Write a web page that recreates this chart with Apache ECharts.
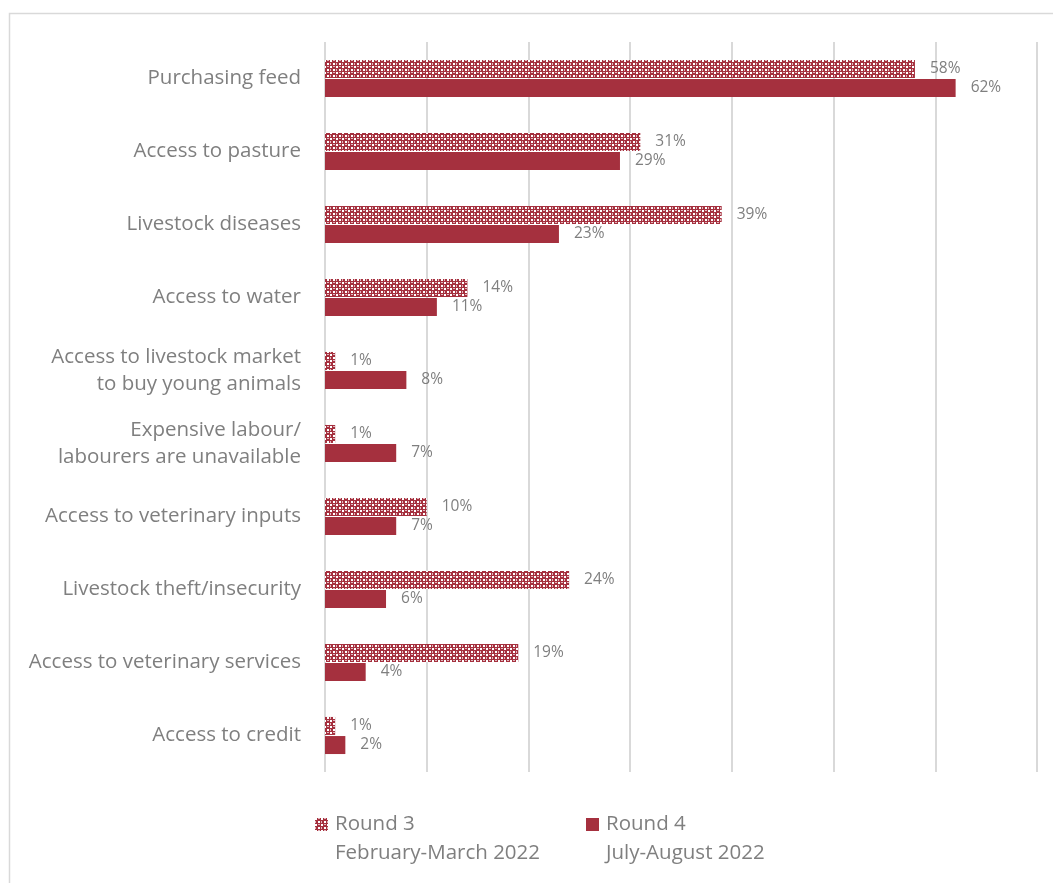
<!DOCTYPE html>
<html>
<head>
<meta charset="utf-8">
<script src="https://cdn.jsdelivr.net/npm/echarts@6/dist/echarts.min.js"></script>
<style>
  html, body { margin: 0; padding: 0; background: #ffffff; }
  #chart { width: 1053px; height: 883px; }
</style>
</head>
<body>
<div id="chart"></div>
<script>
// Livestock production difficulties reported by households, two survey rounds (%)
const categories = [
  'Purchasing feed',
  'Access to pasture',
  'Livestock diseases',
  'Access to water',
  'Access to livestock market\nto buy young animals',
  'Expensive labour/\nlabourers are unavailable',
  'Access to veterinary inputs',
  'Livestock theft/insecurity',
  'Access to veterinary services',
  'Access to credit'
];
const round3 = [58, 31, 39, 14, 1, 1, 10, 24, 19, 1];
const round4 = [62, 29, 23, 11, 8, 7, 7, 6, 4, 2];
const seriesNames = ['Round 3', 'Round 4'];
const seriesPeriods = ['February-March 2022', 'July-August 2022'];

const RED = '#a5303e';
const PINK = '#e2b8be';
const GREY_TEXT = '#7f7f7f';
const GRID = '#d9d9d9';
const FONT = '"Open Sans", Lato, sans-serif';

// Small repeating tile: red crosses between offset white squares, used as the Round 3 fill
function makeTile() {
  const c = document.createElement('canvas');
  c.width = 6; c.height = 6;
  const g = c.getContext('2d');
  g.fillStyle = RED;
  g.fillRect(0, 0, 6, 6);
  g.fillStyle = '#ffffff';
  g.fillRect(0, 0, 2, 2);
  g.fillRect(3, 3, 2, 2);
  g.fillStyle = PINK;
  g.fillRect(3, 0, 2, 1);
  g.fillRect(0, 3, 1, 2);
  return c;
}
const patternFill = { image: makeTile(), repeat: 'repeat' };

const chart = echarts.init(document.getElementById('chart'), null, { renderer: 'canvas' });

const labelStyle = {
  show: true,
  position: 'right',
  distance: 15,
  color: GREY_TEXT,
  fontFamily: FONT,
  fontSize: 15.5,
  formatter: p => p.value + '%'
};

// Legend entry: a blank first line keeps the swatch level with the round name
function legendFor(i, left) {
  return {
    data: [seriesNames[i]],
    left: left,
    top: 776,
    itemWidth: 13,
    itemHeight: 13,
    itemGap: 0,
    icon: 'rect',
    formatter: name => ' \n' + name + '\n' + seriesPeriods[i],
    textStyle: {
      color: GREY_TEXT,
      fontFamily: FONT,
      fontSize: 20.5,
      lineHeight: 29,
      padding: [0, 0, 0, 2]
    }
  };
}

chart.setOption({
  animation: false,
  backgroundColor: '#ffffff',
  graphic: [{
    type: 'rect',
    shape: { x: 9.5, y: 13.5, width: 1200, height: 1000 },
    style: { fill: 'none', stroke: GRID, lineWidth: 1.5 },
    silent: true,
    z: -10
  }],
  legend: [legendFor(0, 310), legendFor(1, 581)],
  grid: { left: 325, right: 16, top: 42, bottom: 111, containLabel: false },
  xAxis: {
    type: 'value',
    min: 0,
    max: 70,
    interval: 10,
    axisLabel: { show: false },
    axisLine: { show: false },
    axisTick: { show: false },
    splitLine: { show: true, lineStyle: { color: GRID, width: 2 } }
  },
  yAxis: {
    type: 'category',
    data: categories,
    inverse: true,
    axisLine: { show: false },
    axisTick: { show: false },
    axisLabel: {
      color: GREY_TEXT,
      fontFamily: FONT,
      fontSize: 20.5,
      lineHeight: 27,
      margin: 24,
      align: 'right'
    }
  },
  series: [
    {
      name: seriesNames[0],
      type: 'bar',
      data: round3,
      barWidth: 18,
      barGap: '6%',
      itemStyle: { color: patternFill },
      label: labelStyle
    },
    {
      name: seriesNames[1],
      type: 'bar',
      data: round4,
      barWidth: 18,
      itemStyle: { color: RED },
      label: labelStyle
    }
  ]
});
</script>
</body>
</html>
